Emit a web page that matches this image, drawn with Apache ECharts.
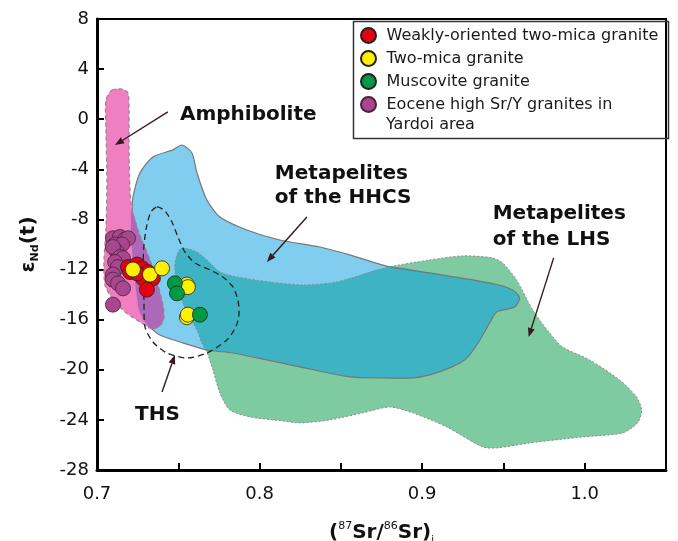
<!DOCTYPE html>
<html><head><meta charset="utf-8">
<script src="https://cdn.jsdelivr.net/npm/echarts@6/dist/echarts.min.js"></script>
<style>html,body{margin:0;padding:0;background:#fff}#c{width:678px;height:541px}</style>
</head><body><div id="c"></div>
<script>
// ---- axes ----
const xMin = 0.7, xMax = 1.05, xStep = 0.05;
const yMin = -28, yMax = 8, yStep = 4;
const xTickLabels = ['0.7', '0.8', '0.9', '1.0'];

// ---- field outlines (87Sr/86Sr, eNd) ----
const amphibolite = [[0.7092,2.33],[0.7154,2.41],[0.7191,2.09],[0.7197,0.74],[0.7197,-2.45],[0.7203,-5.65],[0.7215,-7.24],[0.7264,-9.24],[0.7326,-11.23],[0.7375,-13.23],[0.7406,-14.83],[0.7412,-15.86],[0.7387,-16.50],[0.7338,-16.74],[0.7264,-16.18],[0.7172,-15.38],[0.7092,-14.27],[0.7049,-13.23],[0.7043,-11.23],[0.7055,-8.84],[0.7061,-4.85],[0.7055,-0.86],[0.7055,1.54]];
const amphiboliteInHHCS = [[0.7215,-7.24],[0.7264,-9.24],[0.7326,-11.23],[0.7375,-13.23],[0.7406,-14.83],[0.7412,-15.86],[0.7387,-16.50],[0.7338,-16.74],[0.7295,-16.18],[0.7258,-15.22],[0.7240,-13.63],[0.7221,-11.23],[0.7209,-8.84]];
const hhcs = [[0.7221,-6.21],[0.7264,-4.29],[0.7344,-3.01],[0.7467,-2.45],[0.7522,-2.06],[0.7584,-2.69],[0.7615,-4.29],[0.7676,-6.45],[0.7756,-7.80],[0.7922,-8.84],[0.8125,-9.64],[0.8371,-10.20],[0.8555,-10.83],[0.8801,-11.79],[0.9047,-12.27],[0.9415,-13.07],[0.9557,-13.63],[0.9600,-14.27],[0.9569,-14.99],[0.9459,-15.38],[0.9415,-16.26],[0.9336,-18.02],[0.9262,-19.21],[0.9170,-19.85],[0.9047,-20.41],[0.8942,-20.65],[0.8739,-20.65],[0.8555,-20.57],[0.8248,-19.77],[0.8045,-19.21],[0.7836,-18.66],[0.7676,-18.42],[0.7510,-17.78],[0.7387,-17.22],[0.7338,-16.74],[0.7295,-16.18],[0.7258,-15.22],[0.7240,-13.63],[0.7221,-11.23],[0.7209,-8.84],[0.7215,-7.24]];
const lhs = [[0.7522,-10.28],[0.7615,-10.60],[0.7695,-11.47],[0.7756,-12.19],[0.7860,-12.59],[0.8063,-12.99],[0.8266,-13.23],[0.8475,-12.99],[0.8801,-11.79],[0.9047,-11.23],[0.9250,-10.91],[0.9434,-11.07],[0.9495,-11.47],[0.9581,-12.83],[0.9680,-15.22],[0.9784,-17.06],[0.9864,-18.18],[1.0030,-19.21],[1.0215,-20.81],[1.0319,-22.17],[1.0350,-23.21],[1.0325,-24.24],[1.0233,-25.04],[0.9987,-25.36],[0.9661,-25.84],[0.9459,-26.24],[0.9372,-26.16],[0.9151,-24.56],[0.8942,-23.44],[0.8801,-22.97],[0.8635,-23.44],[0.8432,-24.00],[0.8248,-24.24],[0.8143,-24.08],[0.7940,-23.76],[0.7817,-23.21],[0.7756,-21.85],[0.7713,-20.01],[0.7676,-18.58],[0.7645,-17.86],[0.7615,-16.82],[0.7553,-15.46],[0.7522,-14.43],[0.7492,-13.23],[0.7479,-11.79],[0.7492,-10.83]];
const hhcsInLHS = [[0.7676,-18.42],[0.7645,-17.86],[0.7615,-16.82],[0.7553,-15.46],[0.7522,-14.43],[0.7492,-13.23],[0.7479,-11.79],[0.7492,-10.83],[0.7522,-10.28],[0.7615,-10.60],[0.7695,-11.47],[0.7756,-12.19],[0.7860,-12.59],[0.8063,-12.99],[0.8266,-13.23],[0.8475,-12.99],[0.8801,-11.79],[0.9047,-12.27],[0.9415,-13.07],[0.9557,-13.63],[0.9600,-14.27],[0.9569,-14.99],[0.9459,-15.38],[0.9415,-16.26],[0.9336,-18.02],[0.9262,-19.21],[0.9170,-19.85],[0.9047,-20.41],[0.8942,-20.65],[0.8739,-20.65],[0.8555,-20.57],[0.8248,-19.77],[0.8045,-19.21],[0.7836,-18.66]];
const ths = [[0.7369,-7.00],[0.7418,-7.32],[0.7461,-8.20],[0.7498,-9.40],[0.7541,-10.60],[0.7602,-11.47],[0.7695,-12.03],[0.7774,-12.59],[0.7836,-13.39],[0.7867,-14.43],[0.7873,-15.62],[0.7854,-16.58],[0.7799,-17.62],[0.7676,-18.66],[0.7553,-19.06],[0.7430,-18.66],[0.7344,-17.78],[0.7295,-16.58],[0.7289,-14.43],[0.7283,-12.03],[0.7289,-10.04],[0.7307,-8.44],[0.7332,-7.40]];

// ---- samples ----
const seriesNames = ['Weakly-oriented two-mica granite', 'Two-mica granite', 'Muscovite granite', 'Eocene high Sr/Y granites in Yardoi area'];
const weaklyOriented = [[0.7191,-11.8],[0.7203,-12.2],[0.7246,-11.6],[0.7277,-11.9],[0.7313,-12.2],[0.7344,-12.7],[0.7283,-12.7],[0.7307,-13.6],[0.7246,-12.3]];
const twoMica = [[0.7221,-12.0],[0.7326,-12.4],[0.7400,-11.9],[0.7553,-13.2],[0.7559,-13.4],[0.7553,-15.8],[0.7559,-15.6]];
const muscovite = [[0.7479,-13.1],[0.7492,-13.9],[0.7633,-15.6]];
const eocene = [[0.7098,-9.5],[0.7141,-9.4],[0.7172,-9.6],[0.7191,-9.5],[0.7111,-10.0],[0.7154,-10.0],[0.7123,-10.6],[0.7098,-10.2],[0.7141,-11.0],[0.7160,-11.1],[0.7111,-11.4],[0.7129,-11.8],[0.7098,-12.4],[0.7098,-12.8],[0.7129,-13.1],[0.7160,-13.5],[0.7098,-14.8]];

// ---- annotations ----
const labelTexts = ['Amphibolite', 'Metapelites', 'of the HHCS', 'Metapelites', 'of the LHS', 'THS'];
const labelX = [0.7510, 0.8094, 0.8094, 0.9434, 0.9434, 0.7234];
const labelY = [0.38, -4.35, -6.26, -7.56, -9.60, -23.58];
const arrowFrom = [[0.7436, 0.58], [0.8291, -7.80], [0.9809, -11.07], [0.7400, -21.77]];
const arrowTo = [[0.7111, -2.06], [0.8045, -11.39], [0.9655, -17.38], [0.7479, -18.82]];

function region(pts, style, smooth) {
  return {
    type: 'custom', coordinateSystem: 'cartesian2d', data: pts, encode: {x: 0, y: 1}, silent: true,
    renderItem: (params, api) => params.dataIndex === 0 ? {
      type: 'polygon', shape: {points: pts.map(p => api.coord(p)), smooth: smooth}, style: style
    } : null
  };
}

const chart = echarts.init(document.getElementById('c'), null, {renderer: 'canvas'});
const AX = '#111';
const SM = 0.25;
chart.setOption({
  animation: false,
  backgroundColor: '#fff',
  grid: {left: 97, right: 12, top: 19, bottom: 71, show: true, borderColor: '#000', borderWidth: 2, backgroundColor: 'transparent', outerBoundsMode: 'none'},
  xAxis: {
    type: 'value', min: xMin, max: xMax, interval: xStep,
    splitLine: {show: false},
    axisLine: {show: true, onZero: false, lineStyle: {color: '#000', width: 3}},
    axisTick: {show: true, inside: true, length: 7, lineStyle: {color: '#000', width: 2}},
    axisLabel: {
      margin: 15, color: AX, fontFamily: 'DejaVu Sans', fontSize: 18,
      formatter: v => { const s = v.toFixed(1); return (xTickLabels.indexOf(s) >= 0 && Math.abs(v - parseFloat(s)) < 1e-6) ? s : ''; }
    },
    name: '{p|(}{sup|87}{p|Sr/}{sup|86}{p|Sr)}{sub|i}',
    nameLocation: 'middle', nameGap: 51,
    nameTextStyle: {
      rich: {
        p: {fontFamily: 'DejaVu Sans', fontWeight: 'bold', fontSize: 20, color: '#111', lineHeight: 24},
        sup: {fontFamily: 'DejaVu Sans', fontSize: 11, color: '#111', verticalAlign: 'top', lineHeight: 24},
        sub: {fontFamily: 'DejaVu Sans', fontSize: 10, color: '#111', verticalAlign: 'bottom', lineHeight: 24}
      }
    }
  },
  yAxis: {
    type: 'value', min: yMin, max: yMax, interval: yStep,
    splitLine: {show: false},
    axisLine: {show: true, onZero: false, lineStyle: {color: '#000', width: 3}},
    axisTick: {show: true, inside: true, length: 7, lineStyle: {color: '#000', width: 2}},
    axisLabel: {margin: 8, color: AX, fontFamily: 'DejaVu Sans', fontSize: 18},
    name: '{e|ε}{s|Nd}{e|(t)}',
    nameLocation: 'middle', nameGap: 56, nameRotate: 90,
    nameTextStyle: {
      rich: {
        e: {fontFamily: 'DejaVu Sans', fontWeight: 'bold', fontSize: 20, color: '#111', lineHeight: 24},
        s: {fontFamily: 'DejaVu Sans', fontWeight: 'bold', fontSize: 11, color: '#111', verticalAlign: 'bottom', lineHeight: 24}
      }
    }
  },
  legend: {
    data: seriesNames.map(n => ({name: n})),
    orient: 'vertical', left: 356, top: 19, padding: [8, 4, 0, 4],
    itemWidth: 26, itemHeight: 15, itemGap: 6,
    icon: 'circle', selectedMode: false,
    formatter: n => n === seriesNames[3] ? 'Eocene high Sr/Y granites in' : n,
    textStyle: {fontFamily: 'DejaVu Sans', fontSize: 16, color: '#1a1a1a', lineHeight: 16}
  },
  graphic: [
    {type: 'rect', left: 351, top: 19, shape: {width: 315, height: 117}, style: {fill: 'none', stroke: '#333', lineWidth: 1.5}, z: 100, silent: true},
    {type: 'text', left: 386, top: 117, style: {text: 'Yardoi area', font: '16px "DejaVu Sans"', fill: '#1a1a1a'}, z: 100, silent: true}
  ],
  series: [
    region(lhs, {fill: '#7ecba1'}, SM),
    region(hhcs, {fill: '#80cdef'}, SM),
    region(hhcsInLHS, {fill: '#3db3c4'}, SM),
    region(lhs, {fill: 'none', stroke: '#8a8a8a', lineWidth: 1, lineDash: [2, 2]}, SM),
    region(hhcs, {fill: 'none', stroke: '#777', lineWidth: 1.2}, SM),
    region(amphibolite, {fill: '#ef7fc0'}, SM),
    region(amphiboliteInHHCS, {fill: '#ad68b9'}, SM),
    region(amphibolite, {fill: 'none', stroke: '#8a8a8a', lineWidth: 1.2, lineDash: [4, 3]}, SM),
    region(ths, {fill: 'none', stroke: '#222', lineWidth: 1.3, lineDash: [6, 4]}, SM),
    {name: seriesNames[3], type: 'scatter', data: eocene, symbol: 'circle', symbolSize: 15,
     itemStyle: {color: '#a8478b', borderColor: '#4a2040', borderWidth: 0.8, opacity: 1}},
    {name: seriesNames[0], type: 'scatter', data: weaklyOriented, symbol: 'circle', symbolSize: 15,
     itemStyle: {color: '#e60012', borderColor: '#222', borderWidth: 0.8, opacity: 1}},
    {name: seriesNames[1], type: 'scatter', data: twoMica, symbol: 'circle', symbolSize: 15,
     itemStyle: {color: '#fff000', borderColor: '#222', borderWidth: 0.8, opacity: 1}},
    {name: seriesNames[2], type: 'scatter', data: muscovite, symbol: 'circle', symbolSize: 15,
     itemStyle: {color: '#009944', borderColor: '#222', borderWidth: 0.8, opacity: 1}},
    {
      type: 'custom', coordinateSystem: 'cartesian2d', silent: true,
      data: arrowFrom.map((a, i) => [a[0], a[1], arrowTo[i][0], arrowTo[i][1]]),
      encode: {x: [0, 2], y: [1, 3]},
      renderItem: (params, api) => {
        const a = api.coord([api.value(0), api.value(1)]);
        const b = api.coord([api.value(2), api.value(3)]);
        const dx = b[0] - a[0], dy = b[1] - a[1], L = Math.hypot(dx, dy), ux = dx / L, uy = dy / L;
        const hl = 9, hw = 3.5;
        const base = [b[0] - ux * hl, b[1] - uy * hl];
        return {type: 'group', children: [
          {type: 'line', shape: {x1: a[0], y1: a[1], x2: base[0], y2: base[1]}, style: {stroke: '#3a1820', lineWidth: 1.4}},
          {type: 'polygon', shape: {points: [b, [base[0] - uy * hw, base[1] + ux * hw], [base[0] + uy * hw, base[1] - ux * hw]]}, style: {fill: '#3a1820'}}
        ]};
      }
    },
    {
      type: 'custom', coordinateSystem: 'cartesian2d', silent: true,
      data: labelX.map((x, i) => [x, labelY[i], i]),
      encode: {x: 0, y: 1},
      renderItem: (params, api) => {
        const p = api.coord([api.value(0), api.value(1)]);
        return {type: 'text', x: p[0], y: p[1], style: {
          text: labelTexts[params.dataIndex], font: 'bold 20px "DejaVu Sans"', fill: '#111',
          align: 'left', verticalAlign: 'middle'
        }};
      }
    }
  ]
});
</script></body></html>
